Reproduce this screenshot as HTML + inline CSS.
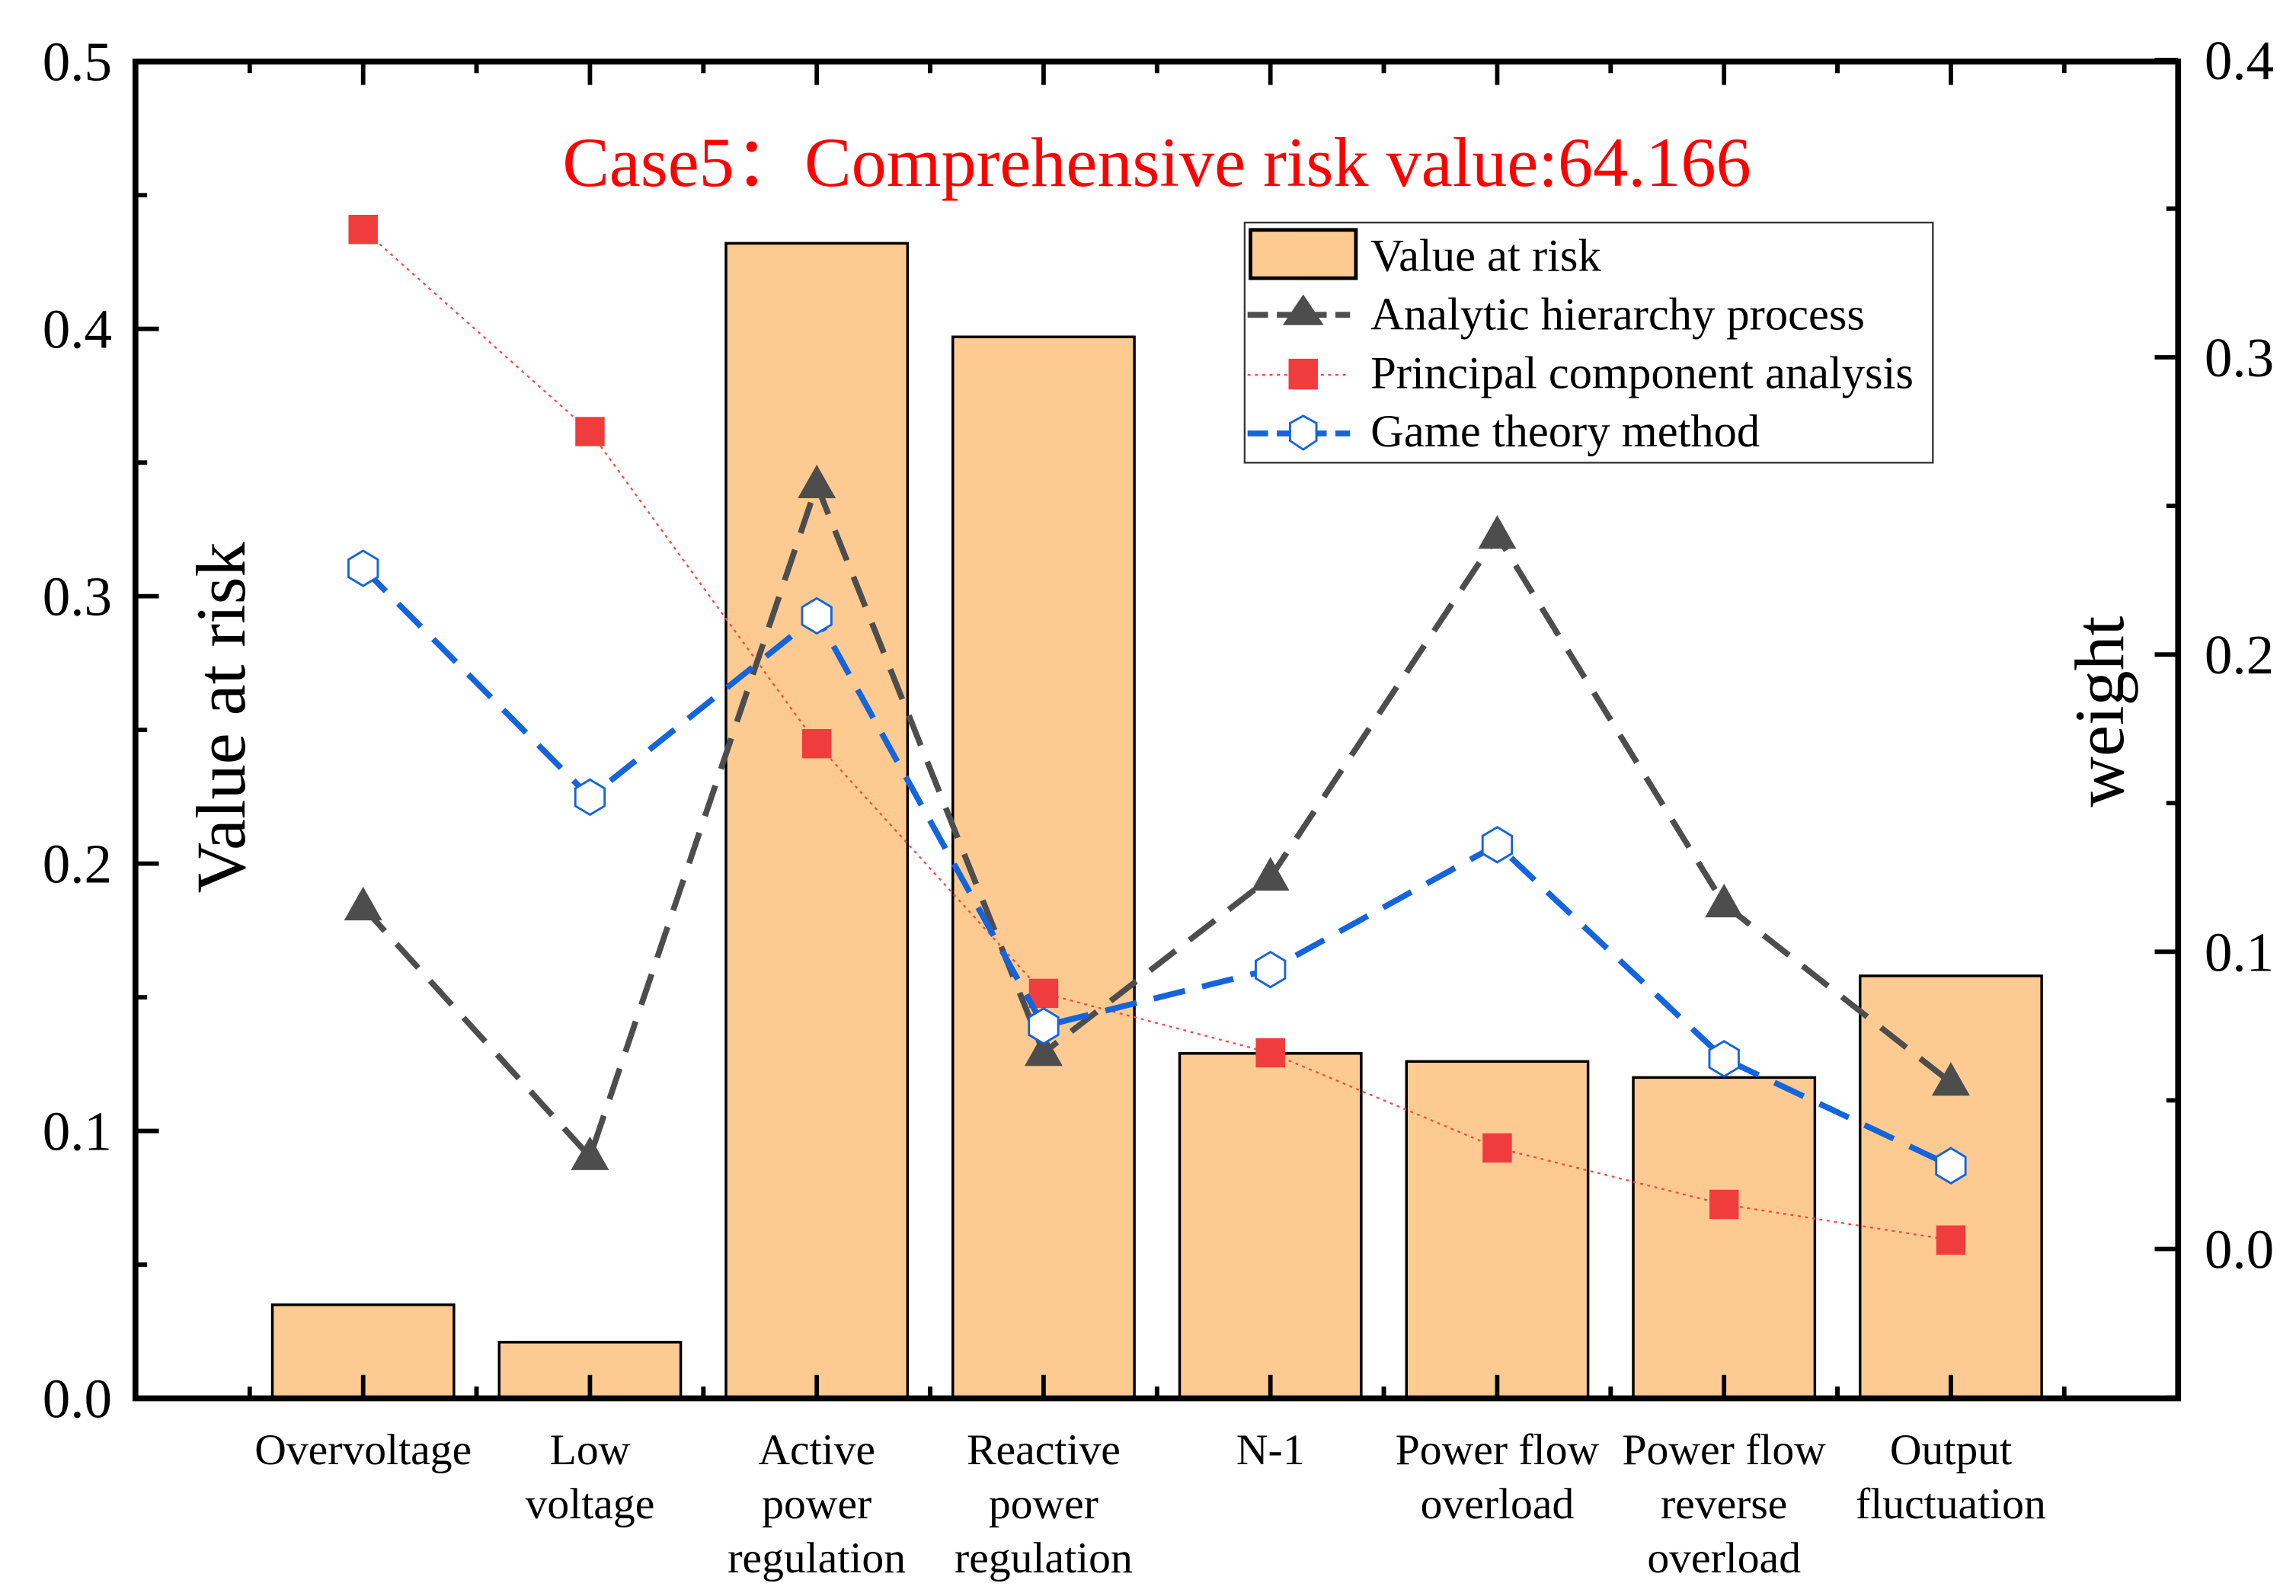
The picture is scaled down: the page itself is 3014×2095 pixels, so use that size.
<!DOCTYPE html>
<html><head><meta charset="utf-8"><style>
html,body{margin:0;padding:0;background:#fff;}
svg{display:block;}
text{font-family:"Liberation Serif",serif;}
</style></head><body>
<svg id="chart" width="3014" height="2095" viewBox="0 0 1568 1090" preserveAspectRatio="none" xmlns="http://www.w3.org/2000/svg">
<g id="bars"></g>
<g id="lines"></g>
<g id="axes"></g>
<text x="790" y="127" text-anchor="middle" font-size="48" fill="#f00">Case5：Comprehensive risk value:64.166</text>
<text transform="translate(167,490) rotate(-90)" text-anchor="middle" font-size="48">Value at risk</text>
<text transform="translate(1450,486) rotate(-90)" text-anchor="middle" font-size="48">weight</text>
<g>
<rect x="850" y="152" width="470" height="164" fill="#fff" stroke="#333" stroke-width="1.2"/>
<g><rect x="854" y="157" width="72" height="33" fill="#fdcb92" stroke="#000" stroke-width="2.5"/><text x="936" y="185" font-size="31.5">Value at risk</text></g>
<g><line x1="852" y1="215" x2="922" y2="215" stroke="#4d4d4d" stroke-width="4" stroke-dasharray="14,6"/><polygon points="890,201 876,222 904,222" fill="#4d4d4d"/><text x="936" y="225" font-size="31.5">Analytic hierarchy process</text></g>
<g><line x1="852" y1="256" x2="922" y2="256" stroke="#f44" stroke-width="1.2" stroke-dasharray="2,3"/><rect x="880" y="245" width="20" height="21" fill="#f03c3c"/><text x="936" y="265" font-size="31.5">Principal component analysis</text></g>
<g><line x1="852" y1="296" x2="922" y2="296" stroke="#1464dc" stroke-width="4" stroke-dasharray="14,6"/><polygon points="890,284 899,289 899,301 890,307 881,301 881,289" fill="#fff" stroke="#1464dc" stroke-width="1.5"/><text x="936" y="305" font-size="31.5">Game theory method</text></g>
</g>
</svg>
<script>
const categories=[["Overvoltage"],["Low","voltage"],["Active","power","regulation"],["Reactive","power","regulation"],["N-1"],["Power flow","overload"],["Power flow","reverse","overload"],["Output","fluctuation"]];
const riskValues=[0.035,0.021,0.432,0.397,0.129,0.126,0.120,0.158];
const ahpWeights=[0.115,0.031,0.257,0.066,0.125,0.240,0.116,0.056];
const pcaWeights=[0.343,0.275,0.170,0.086,0.066,0.034,0.015,0.003];
const gameWeights=[0.229,0.152,0.213,0.075,0.094,0.136,0.064,0.028];
const leftTicks=[0,0.1,0.2,0.3,0.4,0.5];
const rightTicks=[0,0.1,0.2,0.3,0.4];

const NS="http://www.w3.org/2000/svg";
const X0=92.5,X1=1487.5,Y0=955,Y1=42;
const step=154.9, firstX=248;
const xs=i=>firstX+i*step;
const yL=v=>Y0-(v/0.5)*(Y0-Y1);
const yR=v=>853-(v/0.1)*203;
function mk(tag,attrs,parent){const e=document.createElementNS(NS,tag);for(const k in attrs)e.setAttribute(k,attrs[k]);parent.appendChild(e);return e;}
const bars=document.getElementById('bars'),lines=document.getElementById('lines'),axes=document.getElementById('axes');
riskValues.forEach((v,i)=>{
  const r=mk('rect',{x:xs(i)-62,y:yL(v),width:124,height:Y0-yL(v),fill:'#fdcb92',stroke:'#000','stroke-width':1.8},bars);
  
  
});
function series(vals,name,color,width,dash,marker){
  const g=mk('g',{},lines);
  
  
  mk('polyline',{points:vals.map((v,i)=>xs(i)+','+yR(v)).join(' '),fill:'none',stroke:color,'stroke-width':width,'stroke-dasharray':dash},g);
  vals.forEach((v,i)=>{
    const x=xs(i),y=yR(v);let m;
    if(marker==='tri')m=mk('polygon',{points:`${x},${y-14} ${x-13},${y+9} ${x+13},${y+9}`,fill:'#4d4d4d'},g);
    else if(marker==='sq')m=mk('rect',{x:x-10,y:y-10,width:20,height:20,fill:'#f03c3c'},g);
    else m=mk('polygon',{points:`${x},${y-12} ${x+10},${y-6} ${x+10},${y+6} ${x},${y+12} ${x-10},${y+6} ${x-10},${y-6}`,fill:'#fff',stroke:'#1464dc','stroke-width':1.5},g);
    
    
  });
}
series(pcaWeights,'pca-series','#f44',1.2,'2,3','sq');
series(ahpWeights,'ahp-series','#4d4d4d',4,'22,12','tri');
series(gameWeights,'game-theory-series','#1464dc',4,'22,12','hex');
mk('rect',{x:X0,y:Y1,width:X1-X0,height:Y0-Y1,fill:'none',stroke:'#000','stroke-width':4},axes);
for(let v=0;v<=0.5001;v+=0.05){const y=yL(v);const major=Math.abs(v*10-Math.round(v*10))<1e-6;mk('line',{x1:X0,y1:y,x2:X0+(major?16:8),y2:y,stroke:'#000','stroke-width':3},axes);}
leftTicks.forEach(v=>{const t=mk('text',{x:X0-16,y:yL(v)+13,'text-anchor':'end','font-size':38},axes);t.textContent=v.toFixed(1);});
for(let v=-0.05;v<=0.4001;v+=0.05){const y=yR(v);if(y>Y0+1)continue;const major=Math.abs(v*10-Math.round(v*10))<1e-6;mk('line',{x1:X1,y1:y,x2:X1-(major?16:8),y2:y,stroke:'#000','stroke-width':3},axes);}
rightTicks.forEach(v=>{const t=mk('text',{x:X1+18,y:yR(v)+13,'font-size':38},axes);t.textContent=v.toFixed(1);});
categories.forEach((c,i)=>{
  const x=xs(i);
  mk('line',{x1:x,y1:Y0,x2:x,y2:Y0-16,stroke:'#000','stroke-width':3},axes);
  mk('line',{x1:x,y1:Y1,x2:x,y2:Y1+16,stroke:'#000','stroke-width':3},axes);
  [x-step/2,x+step/2].forEach(xm=>{mk('line',{x1:xm,y1:Y0,x2:xm,y2:Y0-8,stroke:'#000','stroke-width':3},axes);mk('line',{x1:xm,y1:Y1,x2:xm,y2:Y1+8,stroke:'#000','stroke-width':3},axes);});
  const t=mk('text',{x:x,'text-anchor':'middle','font-size':30},axes);
  
  
  c.forEach((ln,j)=>{const ts=mk('tspan',{x:x,y:1000+j*37},t);ts.textContent=ln;});
});
</script>
</body></html>
